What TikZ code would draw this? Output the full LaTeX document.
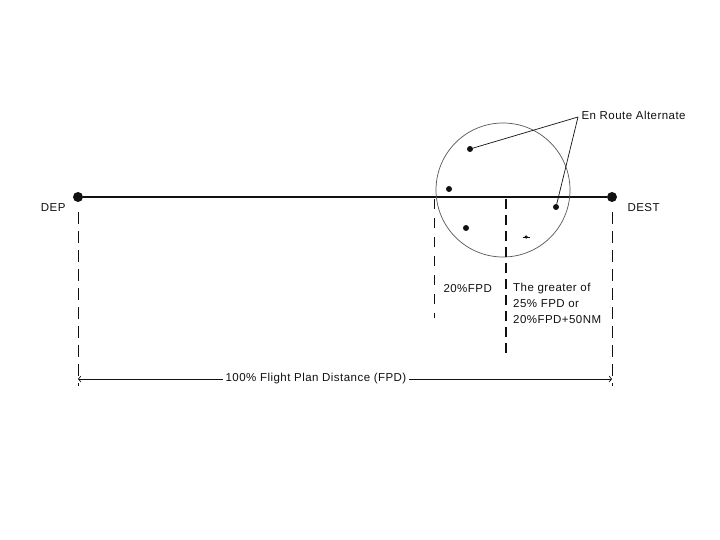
\documentclass[tikz,border=0pt]{standalone}
\usepackage{fontspec}
\setmainfont{Liberation Sans}[LetterSpace=4]
\usetikzlibrary{arrows.meta,calc,positioning}
\definecolor{ChartInk}{HTML}{111111}
\definecolor{ChartGrey}{HTML}{555555}
\tikzset{
  every node/.style={font=\fontsize{11.5}{13}\selectfont, text=ChartInk},
  route/.style={draw=ChartInk, line width=1.1pt},
  airport/.style={circle, fill=ChartInk, inner sep=0pt, minimum size=10pt},
  alternate/.style={circle, fill=ChartInk, inner sep=0pt, minimum size=6pt},
  leader/.style={draw=ChartInk, line width=0.7pt},
  guide/.style={draw=ChartInk, line width=0.8pt, dash pattern=on 12pt off 7pt},
  marker/.style={draw=ChartInk, line width=1.8pt, dash pattern=on 10pt off 6pt},
  dimension/.style={{Straight Barb[length=2.5pt,width=6pt]}-{Straight Barb[length=2.5pt,width=6pt]}, draw=ChartInk, line width=0.7pt},
}
\begin{document}
\begin{tikzpicture}[x=1pt,y=-1pt]
  \useasboundingbox[fill=white] (0,0) rectangle (720,540);
  % Route and airports
  \node[airport] (dep) at (78,197) {};
  \node[airport] (dest) at (612,197) {};
  \draw[route] (dep) -- (dest);
  \node[anchor=east] (deplabel) at (69,208) {DEP};
  \node[anchor=west] (destlabel) at (624,208) {DEST};
  % Alternate area
  \draw[ChartGrey, line width=0.7pt] (503,190) circle (67);
  \node[alternate] (alt1) at (470,149) {};
  \node[alternate] (alt2) at (449,189) {};
  \node[alternate] (alt3) at (466,228) {};
  \node[alternate] (alt4) at (556,207) {};
  \node[circle, fill=ChartInk, inner sep=0pt, minimum size=3.5pt] (alt5) at (526,237) {};
  \draw[ChartInk, line width=0.6pt] ($(alt5)+(-3.5,0)$) -- ($(alt5)+(3.5,0)$);
  % Alternate label
  \coordinate (tip) at (578,117);
  \node[anchor=west] (altlabel) at (578,115) {En Route Alternate};
  \draw[leader] (tip) -- (alt1);
  \draw[leader] (tip) -- (alt4);
  % Distance markers
  \draw[guide] (78,212) -- (78,386);
  \draw[guide] (612,212) -- (612,386);
  \draw[guide, line width=0.6pt, dash pattern=on 10pt off 9pt] (434,199) -- (434,318);
  \draw[marker] (506,199) -- (506,358);
  \node[anchor=west] (twenty) at (440,289) {20\%FPD};
  \node[anchor=north west, align=left, inner sep=0pt, font=\fontsize{11.5}{16}\selectfont] (greater) at (513,283) {The greater of\\25\% FPD or\\20\%FPD+50NM};
  % Overall distance
  \coordinate (left) at (78,379);
  \coordinate (right) at (612,379);
  \draw[dimension] (left) -- (right) node[midway, fill=white, inner xsep=3pt, xshift=-29pt] (fpd) {100\% Flight Plan Distance (FPD)};
\end{tikzpicture}
\end{document}
